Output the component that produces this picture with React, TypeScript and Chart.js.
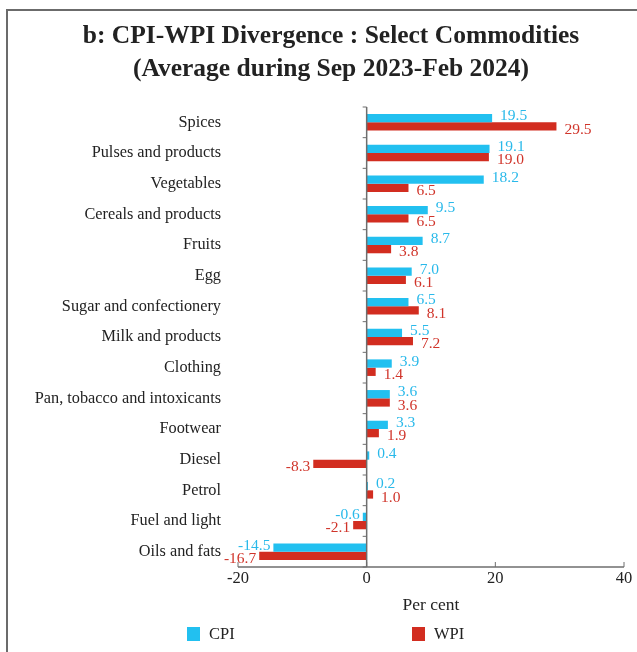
import React, { useEffect, useRef } from "react";
import { Chart, registerables } from "chart.js";

Chart.register(...registerables);

const categories = [
  "Spices",
  "Pulses and products",
  "Vegetables",
  "Cereals and products",
  "Fruits",
  "Egg",
  "Sugar and confectionery",
  "Milk and products",
  "Clothing",
  "Pan, tobacco and intoxicants",
  "Footwear",
  "Diesel",
  "Petrol",
  "Fuel and light",
  "Oils and fats",
];
const cpiValues = [19.5, 19.1, 18.2, 9.5, 8.7, 7.0, 6.5, 5.5, 3.9, 3.6, 3.3, 0.4, 0.2, -0.6, -14.5];
const wpiValues = [29.5, 19.0, 6.5, 6.5, 3.8, 6.1, 8.1, 7.2, 1.4, 3.6, 1.9, -8.3, 1.0, -2.1, -16.7];
const seriesNames = ["CPI", "WPI"];
const xTicks = [-20, 0, 20, 40];
const titleLines = [
  "b: CPI-WPI Divergence : Select Commodities",
  "(Average during Sep 2023-Feb 2024)",
];
const xAxisTitle = "Per cent";

const CPI_COLOR = "#22C0F0";
const WPI_COLOR = "#D22D20";
const FONT = "'Liberation Serif', serif";
const TEXT = "#222222";
const AXIS = "#6e6e6e";

const decorPlugin = {
  id: "decor",
  afterDatasetsDraw(chart: any) {
    const { ctx, chartArea } = chart;
    const xs = chart.scales.x;
    ctx.save();
    // title
    ctx.fillStyle = TEXT;
    ctx.font = `bold 25.5px ${FONT}`;
    ctx.textAlign = "center";
    ctx.textBaseline = "middle";
    ctx.fillText(titleLines[0], 331, 36);
    ctx.fillText(titleLines[1], 331, 69);
    // value labels
    ctx.font = `15.5px ${FONT}`;
    ctx.textBaseline = "middle";
    chart.data.datasets.forEach((ds: any, di: number) => {
      const meta = chart.getDatasetMeta(di);
      meta.data.forEach((bar: any, i: number) => {
        const v = ds.data[i];
        const dy = di === 0 ? -2 : 3;
        ctx.fillStyle = ds.labelColor;
        if (v >= 0) {
          ctx.textAlign = "left";
          ctx.fillText(v.toFixed(1), bar.x + 8, bar.y + dy);
        } else {
          ctx.textAlign = "right";
          ctx.fillText(v.toFixed(1), bar.x - 3, bar.y + dy);
        }
      });
    });
    // zero line with category ticks
    const x0 = xs.getPixelForValue(0);
    ctx.strokeStyle = AXIS;
    ctx.lineWidth = 1.5;
    ctx.beginPath();
    ctx.moveTo(x0, chartArea.top);
    ctx.lineTo(x0, chartArea.bottom);
    ctx.stroke();
    const n = categories.length;
    const h = (chartArea.bottom - chartArea.top) / n;
    ctx.lineWidth = 1;
    for (let i = 0; i <= n; i++) {
      const y = chartArea.top + i * h;
      ctx.beginPath();
      ctx.moveTo(x0 - 4, y);
      ctx.lineTo(x0, y);
      ctx.stroke();
    }
    // x axis line with upward ticks
    ctx.lineWidth = 1.5;
    ctx.beginPath();
    ctx.moveTo(chartArea.left, chartArea.bottom);
    ctx.lineTo(chartArea.right, chartArea.bottom);
    ctx.stroke();
    ctx.lineWidth = 1;
    xTicks.forEach((t) => {
      const x = xs.getPixelForValue(t);
      ctx.beginPath();
      ctx.moveTo(x, chartArea.bottom - 5);
      ctx.lineTo(x, chartArea.bottom);
      ctx.stroke();
    });
    // legend
    const legendY = chart.height - 18;
    const items = [
      { name: seriesNames[0], color: CPI_COLOR, x: 187 },
      { name: seriesNames[1], color: WPI_COLOR, x: 412 },
    ];
    ctx.font = `16.5px ${FONT}`;
    ctx.textAlign = "left";
    ctx.textBaseline = "middle";
    items.forEach((it) => {
      ctx.fillStyle = it.color;
      ctx.fillRect(it.x, legendY - 7, 13, 14);
      ctx.fillStyle = TEXT;
      ctx.fillText(it.name, it.x + 22, legendY + 1);
    });
    ctx.restore();
  },
};

export default function App() {
  const ref = useRef<HTMLCanvasElement | null>(null);
  useEffect(() => {
    if (!ref.current) return;
    document.body.style.overflow = "hidden";
    const chart = new Chart(ref.current, {
      type: "bar",
      data: {
        labels: categories,
        datasets: [
          {
            label: seriesNames[0],
            data: cpiValues,
            backgroundColor: CPI_COLOR,
            borderWidth: 0,
            labelColor: "#29B9EA",
          } as any,
          {
            label: seriesNames[1],
            data: wpiValues,
            backgroundColor: WPI_COLOR,
            borderWidth: 0,
            labelColor: "#D0342A",
          } as any,
        ],
      },
      options: {
        indexAxis: "y",
        animation: false,
        responsive: false,
        devicePixelRatio: 1,
        categoryPercentage: 0.54,
        barPercentage: 1,
        layout: { padding: { left: 0, right: 13, top: 107, bottom: 35 } },
        plugins: {
          legend: { display: false },
          tooltip: { enabled: false },
          title: { display: false },
        },
        scales: {
          x: {
            min: -20,
            max: 40,
            afterBuildTicks: (s: any) => {
              s.ticks = xTicks.map((v) => ({ value: v }));
            },
            afterFit: (s: any) => {
              s.height = 50;
            },
            ticks: {
              color: TEXT,
              font: { family: FONT, size: 16.5 },
              padding: 2,
              maxRotation: 0,
            },
            grid: { display: false, drawTicks: false },
            border: { display: false },
            title: {
              display: true,
              text: xAxisTitle,
              color: TEXT,
              font: { family: FONT, size: 17.5 },
              padding: { top: 4, bottom: 1 },
            },
          },
          y: {
            afterFit: (s: any) => {
              s.width = 238;
            },
            ticks: {
              color: TEXT,
              font: { family: FONT, size: 16.3 },
              padding: 17,
              autoSkip: false,
            },
            grid: { display: false, drawTicks: false },
            border: { display: false },
          },
        },
      },
      plugins: [decorPlugin],
    } as any);
    return () => chart.destroy();
  }, []);
  return (
    <div style={{ position: "fixed", left: 0, top: 0, width: 637, height: 652, overflow: "hidden", background: "#fff" }}>
      <div
        style={{
          position: "absolute",
          left: 6,
          top: 9,
          right: 0,
          bottom: 0,
          borderLeft: "2px solid #6b6b6b",
          borderTop: "2px solid #6b6b6b",
        }}
      />
      <canvas ref={ref} width={637} height={652} style={{ position: "absolute", left: 0, top: 0, width: 637, height: 652 }} />
    </div>
  );
}
